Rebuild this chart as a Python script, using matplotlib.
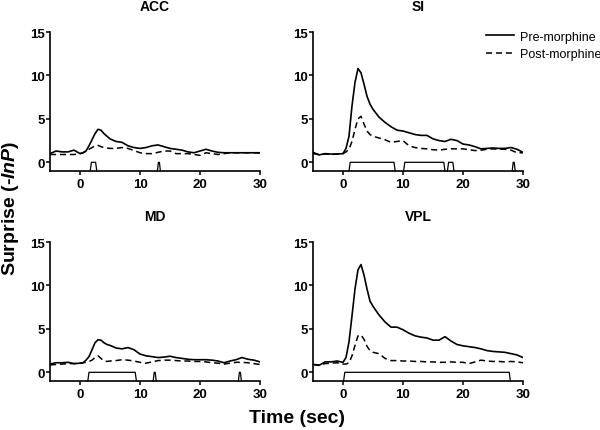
import matplotlib
matplotlib.use("Agg")
import matplotlib.pyplot as plt
from matplotlib.lines import Line2D

plt.rcParams['font.family'] = ['Liberation Sans', 'DejaVu Sans']
plt.rcParams['mathtext.fontset'] = 'custom'
plt.rcParams['mathtext.it'] = 'Liberation Sans:italic:bold'
plt.rcParams['mathtext.rm'] = 'Liberation Sans:bold'
plt.rcParams['mathtext.bf'] = 'Liberation Sans:bold'

# ---------------- data ----------------
time = [-5, -4, -3, -2, -1, 0,
        0.5, 1, 1.5, 2, 2.5, 3, 3.5, 4, 4.5,
        5, 6, 7, 8, 9, 10, 11, 12, 13, 14, 15, 16, 17, 18, 19, 20,
        21, 22, 23, 24, 25, 26, 27, 28, 29, 30]

acc_pre = [1.0, 1.3, 1.2, 1.2, 1.4, 1.0,
           1.1, 1.3, 1.9, 2.6, 3.3, 3.8, 3.7, 3.3, 3.0,
           2.7, 2.4, 2.3, 1.9, 1.7, 1.6, 1.7, 1.9, 2.0, 1.8, 1.6, 1.5, 1.4, 1.2, 1.1, 1.3,
           1.5, 1.3, 1.15, 1.1, 1.1, 1.1, 1.1, 1.1, 1.1, 1.1]
acc_post = [0.9, 0.9, 0.9, 0.9, 0.9, 1.0,
            1.1, 1.3, 1.5, 1.7, 1.9, 1.95, 1.8, 1.7, 1.65,
            1.6, 1.6, 1.7, 1.6, 1.35, 1.1, 1.0, 1.0, 1.15, 1.3, 1.3, 1.0, 1.0, 1.0, 0.9, 0.8,
            1.1, 1.0, 0.9, 1.0, 1.1, 1.1, 1.1, 1.1, 1.1, 1.05]

si_pre = [1.15, 0.85, 1.0, 0.95, 0.95, 1.0,
          1.6, 3.0, 6.5, 9.2, 10.8, 10.3, 9.0, 7.6, 6.7,
          6.1, 5.2, 4.6, 4.1, 3.7, 3.6, 3.4, 3.2, 3.1, 3.1, 2.7, 2.5, 2.4, 2.65, 2.5, 2.1,
          2.0, 1.8, 1.55, 1.6, 1.65, 1.6, 1.6, 1.7, 1.5, 1.15]
si_post = [1.0, 0.9, 0.95, 0.9, 0.95, 1.0,
           1.2, 1.5, 2.4, 3.8, 5.0, 5.3, 4.4, 3.6, 3.2,
           3.0, 2.8, 2.6, 2.3, 2.4, 2.5, 1.9, 1.7, 1.6, 1.55, 1.45, 1.4, 1.5, 1.55, 1.55, 1.55,
           1.45, 1.35, 1.4, 1.5, 1.55, 1.5, 1.5, 1.4, 1.1, 1.1]

md_pre = [0.95, 1.1, 1.1, 1.15, 1.0, 1.05,
          1.1, 1.4, 1.8, 2.6, 3.4, 3.75, 3.7, 3.4, 3.2,
          3.1, 2.8, 2.7, 2.85, 2.6, 2.1, 1.9, 1.8, 1.7, 1.75, 1.85, 1.7, 1.6, 1.5, 1.45, 1.45,
          1.45, 1.4, 1.3, 1.1, 1.3, 1.45, 1.7, 1.5, 1.4, 1.2]
md_post = [0.85, 0.9, 0.95, 1.0, 1.0, 1.05,
           1.1, 1.15, 1.25, 1.4, 1.7, 1.9, 1.6, 1.3, 1.25,
           1.3, 1.35, 1.45, 1.4, 1.3, 1.15, 1.05, 1.2, 1.35, 1.4, 1.4, 1.35, 1.3, 1.3, 1.25, 1.25,
           1.2, 1.1, 1.05, 0.95, 1.05, 1.15, 1.15, 1.1, 1.0, 0.9]

vpl_pre = [0.9, 0.8, 1.2, 1.2, 1.3, 1.15,
           1.7, 3.5, 6.5, 9.6, 11.8, 12.4, 11.2, 9.6, 8.2,
           7.6, 6.6, 5.8, 5.2, 5.2, 4.9, 4.5, 4.2, 4.05, 3.95, 3.7, 3.7, 4.1, 3.6, 3.2, 3.05,
           2.95, 2.85, 2.7, 2.5, 2.4, 2.35, 2.3, 2.15, 2.0, 1.7]
vpl_post = [0.9, 0.85, 1.0, 1.05, 1.1, 0.95,
            0.95, 1.1, 1.9, 3.1, 4.2, 4.3, 3.8, 3.0, 2.5,
            2.3, 2.15, 1.6, 1.35, 1.35, 1.3, 1.3, 1.25, 1.25, 1.2, 1.2, 1.15, 1.15, 1.2, 1.15, 1.15,
            1.0, 1.2, 1.4, 1.3, 1.25, 1.25, 1.2, 1.25, 1.2, 1.1]

# stimulus periods (start, end) in seconds
acc_stim = [(1.7, 2.8), (12.9, 13.4)]
si_stim = [(1.0, 8.7), (10.1, 17.0), (17.4, 18.5), (28.2, 28.7)]
md_stim = [(1.3, 9.4), (12.2, 12.7), (26.4, 26.9)]
vpl_stim = [(0.1, 27.9)]

titles = ["ACC", "SI", "MD", "VPL"]
x_ticks = [0, 10, 20, 30]
y_ticks = [0, 5, 10, 15]
legend_labels = ["Pre-morphine", "Post-morphine"]

panels = [
    (titles[0], acc_pre, acc_post, acc_stim),
    (titles[1], si_pre, si_post, si_stim),
    (titles[2], md_pre, md_post, md_stim),
    (titles[3], vpl_pre, vpl_post, vpl_stim),
]

# ---------------- figure ----------------
W, H = 600, 431
fig = plt.figure(figsize=(6, 4.31), dpi=100)

lefts = [50, 313]
tops = [33, 243]
aw, ah = 210, 139

for i, (title, pre, post, stim) in enumerate(panels):
    col, row = i % 2, i // 2
    l = lefts[col] / W
    b = 1 - (tops[row] + ah) / H
    ax = fig.add_axes([l, b, aw / W, ah / H])
    ax.plot(time, pre, color='black', lw=1.2, solid_joinstyle='round')
    ax.plot(time, post, color='black', lw=1.1, linestyle=(0, (4, 2.5)))
    ramp = 0.2
    for s, e in stim:
        r = min(ramp, (e - s) / 3)
        ax.plot([s, s + r, e - r, e], [-1, 0, 0, -1], color='black', lw=0.9,
                clip_on=False)
    ax.set_xlim(-5, 30)
    ax.set_ylim(-1, 15)
    ax.set_xticks(x_ticks)
    ax.set_yticks(y_ticks)
    for sp in ['top', 'right']:
        ax.spines[sp].set_visible(False)
    for sp in ['left', 'bottom']:
        ax.spines[sp].set_linewidth(1.2)
    ax.tick_params(direction='out', length=3, width=1.1, labelsize=9.5, pad=2)
    ax.tick_params(axis='y', pad=1)
    for lab in ax.get_xticklabels() + ax.get_yticklabels():
        lab.set_fontweight('bold')
    ax.set_title(title, fontsize=10, fontweight='bold', pad=16)

handles = [Line2D([], [], color='black', lw=1.2),
           Line2D([], [], color='black', lw=1.1, linestyle=(0, (4, 2.5)))]
fig.legend(handles, legend_labels, loc='upper left',
           bbox_to_anchor=(486 / W, 1 - 31.5 / H), frameon=False, fontsize=9,
           handlelength=2.2, handletextpad=0.5, labelspacing=0.45,
           borderpad=0, borderaxespad=0)

fig.text(0.018, 1 - 208 / H, r"Surprise (-$\it{lnP}$)", rotation=90,
         ha='center', va='center', fontsize=14, fontweight='bold')
fig.text(297 / W, 1 - 419 / H, "Time (sec)", ha='center', va='center',
         fontsize=14, fontweight='bold')

fig.savefig("out.png", dpi=100)
